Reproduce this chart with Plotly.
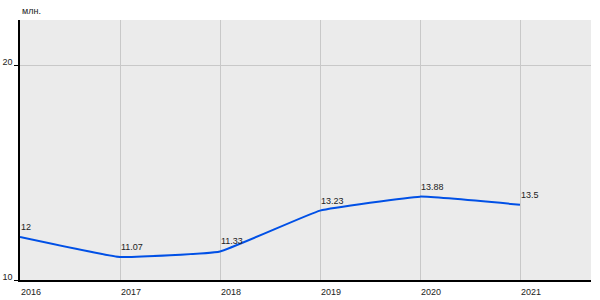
import plotly.graph_objects as go

years = [2016, 2017, 2018, 2019, 2020, 2021]
values = [12, 11.07, 11.33, 13.23, 13.88, 13.5]
labels = ["12", "11.07", "11.33", "13.23", "13.88", "13.5"]
y_ticks = [10, 20]
unit = "млн."

fig = go.Figure()
fig.add_trace(go.Scatter(
    x=years, y=values, mode="lines",
    line=dict(color="#0050e6", width=2, shape="spline", smoothing=0.3),
    hoverinfo="skip", cliponaxis=False,
))
annotations = [dict(text=lab, x=xv, y=yv, xref="x", yref="y", xanchor="left",
                    yanchor="bottom", yshift=3, xshift=-1, showarrow=False,
                    font=dict(size=9, color="#222"))
               for xv, yv, lab in zip(years, values, labels)]
annotations.append(dict(text=unit, x=0, y=1, xref="paper", yref="paper",
                        xanchor="left", yanchor="bottom", yshift=2, showarrow=False,
                        font=dict(size=9, color="#222")))
fig.update_layout(
    width=600, height=300,
    margin=dict(l=20, r=9, t=20, b=20),
    paper_bgcolor="white", plot_bgcolor="#ebebeb",
    showlegend=False,
    font=dict(family="Liberation Sans, Arial", size=9, color="#222"),
    xaxis=dict(range=[2016, 2021.71], tickvals=years, ticktext=[str(y) for y in years],
               showgrid=True, gridcolor="#c8c8c8", gridwidth=1,
               showline=True, linecolor="black", linewidth=2,
               ticks="", ticklabelshift=11, ticklabelstandoff=2, zeroline=False,
               fixedrange=True, automargin=False),
    yaxis=dict(range=[10, 22.1], tickvals=y_ticks, showgrid=True, gridcolor="#c8c8c8",
               showline=True, linecolor="black", linewidth=1.5,
               ticks="outside", ticklen=4, tickcolor="black", ticklabelshift=-3,
               ticklabelstandoff=0, zeroline=False, fixedrange=True, automargin=False),
    annotations=annotations,
)
fig.write_html("out.html")
